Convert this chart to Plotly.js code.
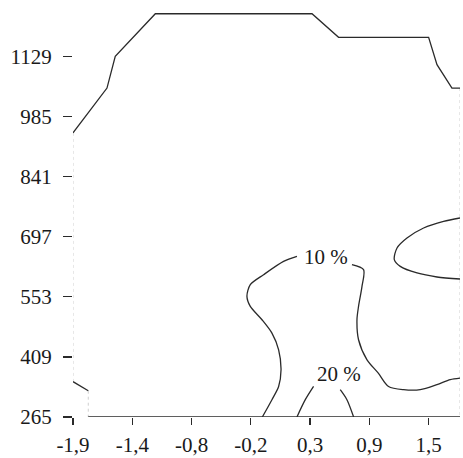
<!DOCTYPE html>
<html>
<head>
<meta charset="utf-8">
<script src="https://cdn.plot.ly/plotly-3.0.1.min.js"></script>
<style>html,body{margin:0;padding:0;background:#fff;}#chart{width:463px;height:458px;}</style>
</head>
<body>
<div id="chart"></div>
<script>
// Tick positions and labels
var xTickVals = [-1.9, -1.333, -0.767, -0.2, 0.367, 0.933, 1.5];
var xTickText = ['-1,9', '-1,4', '-0,8', '-0,2', '0,3', '0,9', '1,5'];
var yTickVals = [265, 409, 553, 697, 841, 985, 1129];

// Outer boundary (dark parts)
var topX = [-1.9, -1.575, -1.496, -1.113, 0.385, 0.639, 1.500, 1.580, 1.723, 1.80];
var topY = [945.5, 1053, 1129, 1231, 1231, 1174.5, 1174.5, 1109, 1053, 1053];
var bottomX = [-1.754, 1.80];
var bottomY = [265, 265];
var cornerX = [-1.9, -1.754];
var cornerY = [349.6, 328];

// Outer boundary (faint parts)
var leftEdgeX = [-1.9, -1.9];
var leftEdgeY = [945.5, 349.6];
var leftStubX = [-1.754, -1.754];
var leftStubY = [328, 265];
var rightEdgeX = [1.80, 1.80];
var rightEdgeY = [1053, 265];

// 10 % contour, left branch
var c10aX = [0.241, 0.113, -0.078, -0.205, -0.237, -0.205, -0.093, 0.002, 0.066, 0.089, 0.066, 0.002, -0.090];
var c10aY = [649.8, 637.8, 605.9, 582, 554, 530, 498, 466, 426, 378, 338, 306.5, 265];
// 10 % contour, right branch
var c10bX = [0.767, 0.878, 0.863, 0.830, 0.815, 0.830, 0.911, 1.019, 1.117, 1.261, 1.420, 1.580, 1.707, 1.80];
var c10bY = [630, 618, 578, 530, 498, 450, 402, 370, 338, 330.4, 330.4, 342.4, 354.4, 358];
// 10 % contour, right lobe
var c10cX = [1.80, 1.643, 1.452, 1.293, 1.198, 1.172, 1.229, 1.389, 1.580, 1.80];
var c10cY = [741.8, 733.7, 717.8, 693.9, 670, 641.9, 625.8, 610, 600.4, 595.6];
// 20 % contour
var c20aX = [0.400, 0.321, 0.241];
var c20aY = [338.3, 306.5, 265];
var c20bX = [0.655, 0.719, 0.783];
var c20bY = [330.4, 306.5, 265];

// Contour labels
var labelText = ['10 %', '20 %'];
var labelX = [0.522, 0.646];
var labelY = [649, 369];

var dark = {color: '#2a2a2a', width: 1.3};
var darkCurve = {color: '#2a2a2a', width: 1.3, shape: 'spline', smoothing: 0.8};
var faint = {color: '#cfcfcf', width: 1, dash: 'dot'};
function tr(x, y, line) {
  return {type: 'scatter', mode: 'lines', x: x, y: y, line: line, hoverinfo: 'skip', showlegend: false};
}
var data = [
  tr(leftEdgeX, leftEdgeY, faint),
  tr(leftStubX, leftStubY, faint),
  tr(rightEdgeX, rightEdgeY, faint),
  tr(topX, topY, dark),
  tr(bottomX, bottomY, dark),
  tr(cornerX, cornerY, dark),
  tr(c10aX, c10aY, darkCurve),
  tr(c10bX, c10bY, darkCurve),
  tr(c10cX, c10cY, darkCurve),
  tr(c20aX, c20aY, darkCurve),
  tr(c20bX, c20bY, darkCurve)
];

var font = {family: '"Liberation Serif", "Times New Roman", serif', size: 21, color: '#1a1a1a'};
var annotations = labelText.map(function (t, i) {
  return {x: labelX[i], y: labelY[i], xref: 'x', yref: 'y', text: t, showarrow: false,
          font: {family: font.family, size: 21, color: '#1a1a1a'}};
});

var layout = {
  width: 463, height: 458,
  margin: {l: 73, r: 3, t: 10, b: 41},
  paper_bgcolor: '#fff', plot_bgcolor: '#fff',
  font: font,
  showlegend: false,
  xaxis: {
    range: [-1.9, 1.80], showgrid: false, zeroline: false, showline: false,
    tickmode: 'array', tickvals: xTickVals, ticktext: xTickText,
    ticks: 'outside', ticklen: 7, tickcolor: '#2a2a2a', tickwidth: 1.3,
    tickfont: font, ticklabelstandoff: 2
  },
  yaxis: {
    range: [265, 1240], showgrid: false, zeroline: false, showline: false,
    tickmode: 'array', tickvals: yTickVals, ticktext: yTickVals.map(String),
    ticks: 'outside', ticklen: 9, tickcolor: '#2a2a2a', tickwidth: 1.3,
    tickfont: font, ticklabelstandoff: 7
  },
  annotations: annotations
};
Plotly.newPlot('chart', data, layout, {displayModeBar: false, staticPlot: true});
</script>
</body>
</html>
